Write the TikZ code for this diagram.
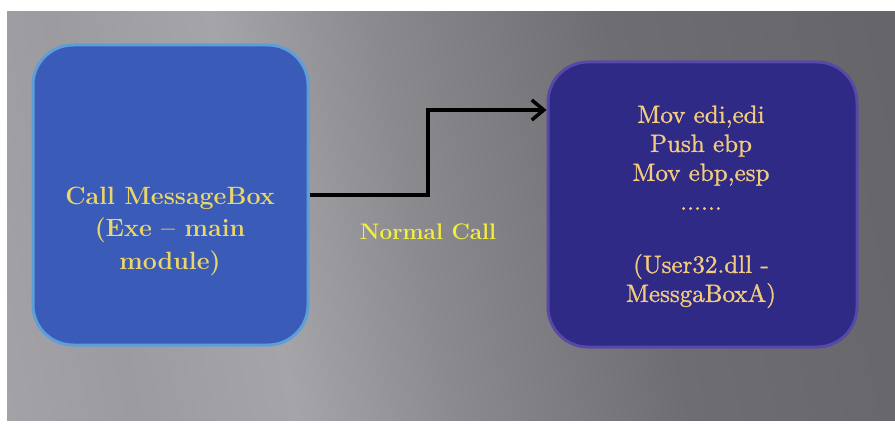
\documentclass[tikz,border=0pt]{standalone}
\usepackage{fontspec}
\usetikzlibrary{arrows.meta}
\newfontfamily\codefont{lmroman10-regular}[Extension=.otf, FakeBold=1.2]
\definecolor{bgA}{HTML}{B6B4BA}
\definecolor{bgB}{HTML}{9C9BA0}
\definecolor{bgC}{HTML}{A5A4A9}
\definecolor{bgB2}{HTML}{8A898E}
\definecolor{bgD}{HTML}{6E6D72}
\definecolor{bgE}{HTML}{5C5B60}
\definecolor{boxblue}{HTML}{3A5BB7}
\definecolor{edgeblue}{HTML}{5E9ED8}
\definecolor{boxindigo}{HTML}{2F2A86}
\definecolor{edgeindigo}{HTML}{5848A8}
\definecolor{txtyellow}{HTML}{EBD66A}
\definecolor{txtorange}{HTML}{F2CB7C}
\definecolor{lblyellow}{HTML}{F2F03C}
\pgfdeclarehorizontalshading{bgshade}{100bp}{color(0bp)=(bgA); color(28bp)=(bgB); color(38bp)=(bgC); color(48bp)=(bgB2); color(62bp)=(bgD); color(100bp)=(bgE)}
\tikzset{
  panel/.style={rounded corners=40pt, line width=3pt},
  leftpanel/.style={panel, draw=edgeblue, fill=boxblue},
  rightpanel/.style={panel, draw=edgeindigo, fill=boxindigo},
  boldtext/.style={text=txtyellow, align=center, font=\bfseries\fontsize{25}{32.5}\selectfont},
  codetext/.style={text=txtorange, align=center, font=\codefont\fontsize{25}{29}\selectfont},
  calllabel/.style={text=lblyellow, font=\bfseries\fontsize{22.5}{27}\selectfont},
  callarrow/.style={line width=4pt, draw=black, -{Straight Barb[length=12pt,width=20pt,line width=3.5pt]}}
}
\begin{document}
\begin{tikzpicture}[x=1pt,y=-1pt]
\useasboundingbox (0,0) rectangle (895,425);
\fill[white] (0,0) rectangle (895,425);
\shade[shading=bgshade, shading angle=12] (7,12) rectangle (895,420);
\node[leftpanel, minimum width=275pt, minimum height=300pt, inner sep=0pt] (L) at (170.5,195) {};
\node[rightpanel, minimum width=309pt, minimum height=285pt, inner sep=0pt] (R) at (702.5,204.5) {};
\node[boldtext] (Ltext) at (170,231) {Call MessageBox\\(Exe -- main\\module)};
\node[codetext, anchor=north] (Rtext) at (701,102) {Mov edi,edi\\Push ebp\\Mov ebp,esp\\......\\[34pt](User32.dll -\\MessgaBoxA)};
\node[calllabel] (lbl) at (428,232) {Normal Call};
\coordinate (bend) at (428,110);
\draw[callarrow] (L.east) -| (bend) -- (bend -| R.west);
\end{tikzpicture}
\end{document}
